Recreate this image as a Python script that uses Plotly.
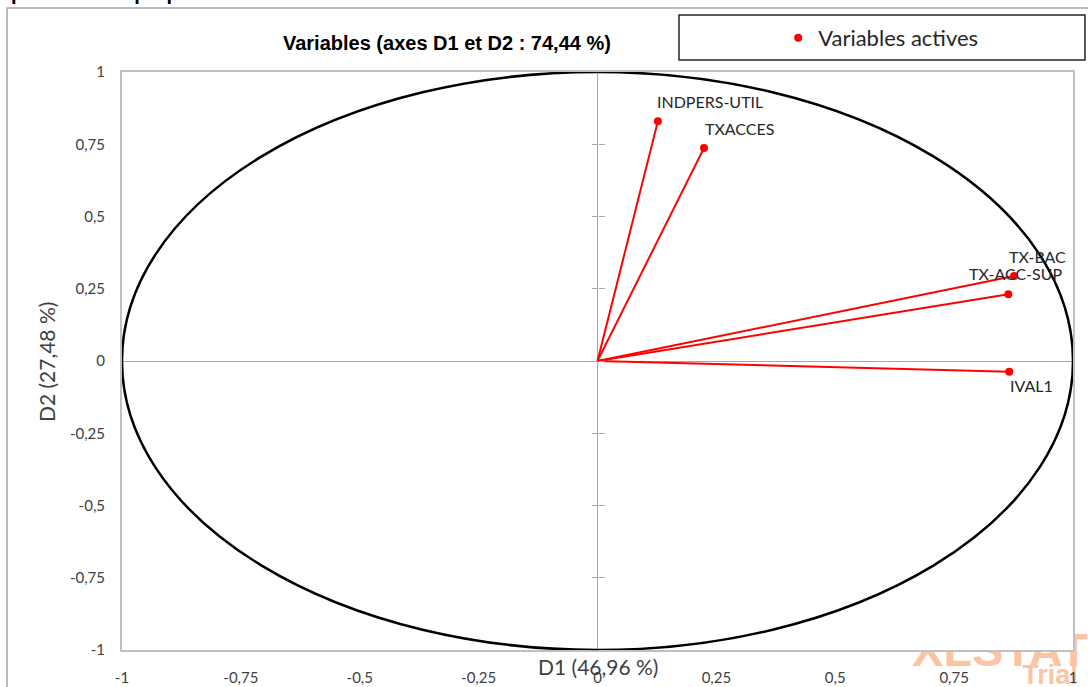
import plotly.graph_objects as go

# ---- data ----
var_names = ["INDPERS-UTIL", "TXACCES", "TX-BAC", "TX-ACC-SUP", "IVAL1"]
d1 = [0.127, 0.224, 0.876, 0.864, 0.866]
d2 = [0.830, 0.737, 0.294, 0.231, -0.037]
tick_vals = [-1, -0.75, -0.5, -0.25, 0, 0.25, 0.5, 0.75, 1]
tick_text = ["-1", "-0,75", "-0,5", "-0,25", "0", "0,25", "0,5", "0,75", "1"]
title_text = "Variables (axes D1 et D2 : 74,44 %)"
x_title = "D1 (46,96 %)"
y_title = "D2 (27,48 %)"
legend_name = "Variables actives"

# label placement (pixel offsets, style only)
label_style = {
    "INDPERS-UTIL": dict(xanchor="left", xshift=-3, yshift=20),
    "TXACCES": dict(xanchor="left", xshift=-1, yshift=20),
    "TX-BAC": dict(xanchor="left", xshift=-7, yshift=20),
    "TX-ACC-SUP": dict(xanchor="right", xshift=56, yshift=21),
    "IVAL1": dict(xanchor="left", xshift=-1, yshift=-14),
}

RED = "#ff0000"
LBL = "Lato"

fig = go.Figure()

# vectors from origin
lx, ly = [], []
for a, b in zip(d1, d2):
    lx += [0, a, None]
    ly += [0, b, None]
fig.add_trace(go.Scatter(x=lx, y=ly, mode="lines", line=dict(color=RED, width=2),
                         showlegend=False, hoverinfo="skip"))
fig.add_trace(go.Scatter(x=d1, y=d2, mode="markers", name=legend_name,
                         marker=dict(color=RED, size=8), text=var_names))
# dummy traces for tick-cross axes
fig.add_trace(go.Scatter(x=[None], y=[None], yaxis="y2", showlegend=False, hoverinfo="skip"))
fig.add_trace(go.Scatter(x=[None], y=[None], yaxis="y3", showlegend=False, hoverinfo="skip"))

# labels
for n, a, b in zip(var_names, d1, d2):
    st = label_style[n]
    fig.add_annotation(x=a, y=b, xref="x", yref="y", text=n, showarrow=False,
                       yanchor="middle", font=dict(family=LBL, size=16, color="#262626"), **st)

# axis titles
fig.add_annotation(x=0.5, y=-0.0277, xref="paper", yref="paper", text=x_title, showarrow=False,
                   xanchor="center", yanchor="middle", font=dict(family=LBL, size=21, color="#404040"))
fig.add_annotation(x=-0.080, y=0.498, xref="paper", yref="paper", text=y_title, showarrow=False,
                   textangle=-90, xanchor="center", yanchor="middle",
                   font=dict(family=LBL, size=21, color="#404040"))

# cut-off heading at the very top
fig.add_annotation(x=-0.1188, y=1.1142, xref="paper", yref="paper", text="<b>pour la base proposée</b>",
                   showarrow=False, xanchor="left", yanchor="bottom",
                   font=dict(family="Liberation Sans", size=20, color="black"))

shapes = [
    # watermark (behind plot area)
    dict(type="rect", xref="paper", yref="paper", x0=0.8276, x1=1.06, y0=-0.0242, y1=0.0381,
         line=dict(width=0), fillcolor="rgba(0,0,0,0)", layer="below",
         label=dict(text="XLSTAT", textposition="middle left", padding=0,
                    font=dict(family="Liberation Sans", size=47, color="#fbc4a2", weight="bold"))),
    dict(type="rect", xref="paper", yref="paper", x0=0.9380, x1=1.0137, y0=-0.0588, y1=-0.0173,
         line=dict(width=0), fillcolor="rgba(0,0,0,0)", layer="below",
         label=dict(text="Trial", textposition="middle center", padding=0,
                    font=dict(family="Liberation Sans", size=27, color="#fbc4a2", weight="bold"))),
    # white plot-area cover so the watermark stays behind it
    dict(type="rect", xref="paper", yref="paper", x0=0, x1=1, y0=0, y1=1,
         line=dict(width=0), fillcolor="white", layer="below"),
    # unit circle
    dict(type="circle", xref="x", yref="y", x0=-1, x1=1, y0=-1, y1=1,
         line=dict(color="black", width=2.5), layer="above"),
    # outer chart frame
    dict(type="rect", xref="paper", yref="paper", x0=-0.1209, x1=1.3, y0=-0.3, y1=1.1107,
         line=dict(color="#a6a6a6", width=1.5), fillcolor="rgba(0,0,0,0)", layer="above"),
    # legend box
    dict(type="rect", xref="paper", yref="paper", x0=0.5857, x1=1.0126, y0=1.0208, y1=1.0986,
         line=dict(color="#262626", width=1.5), fillcolor="rgba(0,0,0,0)", layer="above"),
]

tickfont = dict(family=LBL, size=15, color="#404040")
fig.update_layout(
    width=1088, height=687,
    margin=dict(l=122, r=15, t=72, b=37, autoexpand=False),
    paper_bgcolor="white", plot_bgcolor="white",
    title=dict(text="<b>" + title_text + "</b>", xref="container", yref="container",
               x=0.4108, y=0.9374, xanchor="center", yanchor="middle",
               font=dict(family="Liberation Sans", size=20, color="black")),
    showlegend=True,
    legend=dict(x=0.690, y=1.0588, xanchor="left", yanchor="middle", xref="paper", yref="paper",
                bgcolor="rgba(0,0,0,0)", borderwidth=0,
                font=dict(family=LBL, size=22, color="#262626")),
    xaxis=dict(range=[-1, 1], domain=[0, 1], tickvals=tick_vals, ticktext=tick_text,
               showgrid=False, zeroline=True, zerolinecolor="#a6a6a6", zerolinewidth=1,
               showline=True, mirror=True, linecolor="#c0c0c0", linewidth=2,
               ticks="outside", ticklen=13, tickcolor="rgba(0,0,0,0)", tickfont=tickfont,
               fixedrange=True, automargin=False),
    yaxis=dict(range=[-1, 1], domain=[0, 1], tickvals=tick_vals, ticktext=tick_text,
               showgrid=False, zeroline=True, zerolinecolor="#a6a6a6", zerolinewidth=1,
               showline=True, mirror=True, linecolor="#c0c0c0", linewidth=2,
               ticks="outside", ticklen=12, tickcolor="rgba(0,0,0,0)", tickfont=tickfont,
               fixedrange=True, automargin=False),
    yaxis2=dict(range=[-1, 1], overlaying="y", anchor="free", position=0.5, side="left",
                tickvals=tick_vals, showticklabels=False, ticks="outside", ticklen=6,
                tickcolor="#a6a6a6", showgrid=False, zeroline=False, showline=False,
                automargin=False, fixedrange=True),
    yaxis3=dict(range=[-1, 1], overlaying="y", anchor="free", position=0.5, side="left",
                tickvals=tick_vals, showticklabels=False, ticks="inside", ticklen=6,
                tickcolor="#a6a6a6", showgrid=False, zeroline=False, showline=False,
                automargin=False, fixedrange=True),
    shapes=shapes,
)

fig.write_html("out.html", config={"displayModeBar": False},
               post_script="document.body.style.margin='0';document.body.style.overflow='hidden';")
